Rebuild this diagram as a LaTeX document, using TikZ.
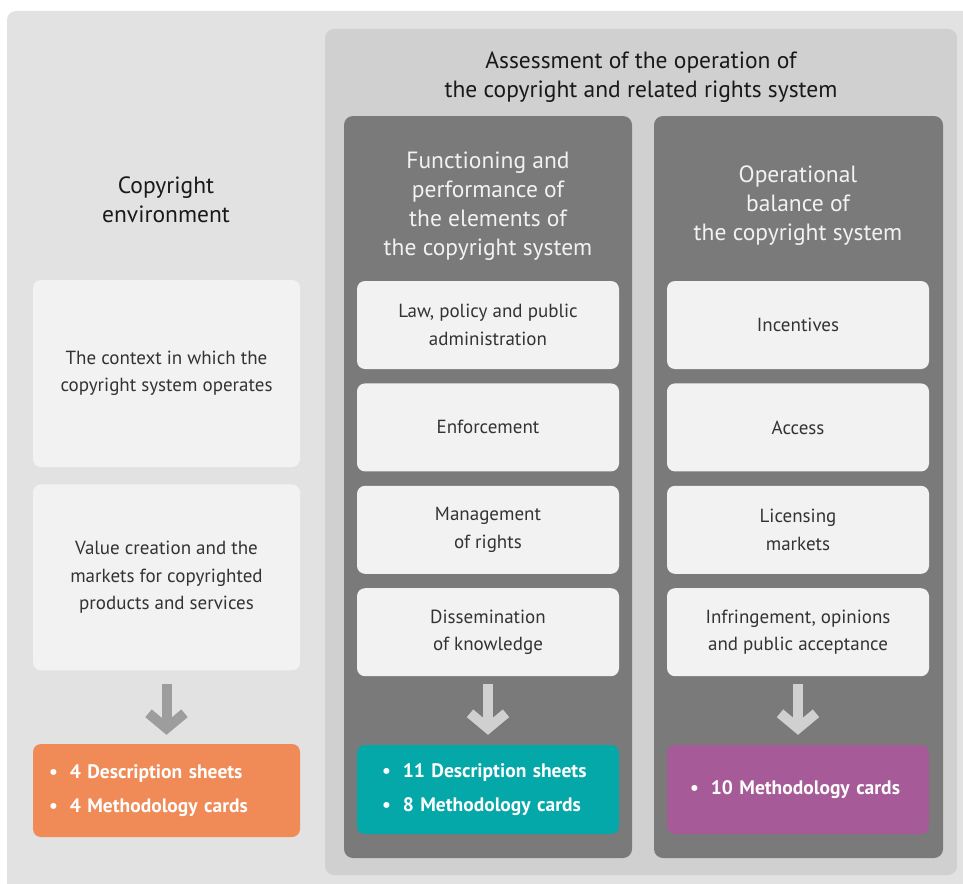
\documentclass[tikz,border=0pt]{standalone}
\usepackage{fontspec}
\setmainfont{PT Sans}
\usepackage{tikz}
\usetikzlibrary{positioning}
\usetikzlibrary{arrows.meta}

\definecolor{outerbg}{HTML}{E2E2E2}
\definecolor{midbg}{HTML}{D0D0D0}
\definecolor{panelgray}{HTML}{7A7A7A}
\definecolor{boxwhite}{HTML}{F2F2F2}
\definecolor{textgray}{HTML}{333333}
\definecolor{orangeres}{HTML}{F08B58}
\definecolor{tealres}{HTML}{05A8A8}
\definecolor{purpleres}{HTML}{A65A98}
\definecolor{arrowgray}{HTML}{9D9D9D}
\definecolor{arrowlight}{HTML}{D0D0D0}

\newcommand{\resitem}[1]{\textbullet\hspace{12pt}#1}

\begin{document}
\begin{tikzpicture}[x=1pt,y=-1pt,
	title/.style={align=center,text=black!90,font=\fontsize{23.5}{29}\selectfont},
	box/.style={rectangle,rounded corners=8pt,fill=boxwhite,text=textgray,align=center,
		minimum width=262pt,minimum height=88pt,inner sep=0pt,font=\fontsize{19}{27.5}\selectfont},
	result/.style={rectangle,rounded corners=8pt,text=white,align=left,minimum height=89pt,
		font=\bfseries\fontsize{19.5}{34}\selectfont},
	downarrow/.style={line width=10pt,-{Straight Barb[sharp,length=15pt,width=36pt]},
		shorten <=13pt,shorten >=9pt}
	]
	\useasboundingbox (0,0) rectangle (963,883);
	\fill [outerbg,rounded corners=9pt] (7,11) rectangle (990,900);
	\fill [midbg,rounded corners=9pt] (325,29) rectangle (957,875);
	\fill [panelgray,rounded corners=9pt] (344,116) rectangle (632,858);
	\fill [panelgray,rounded corners=9pt] (654,116) rectangle (943,858);

	\node [title] (envtitle) at (166,199.5) {Copyright\\environment};
	\node [title] (assesstitle) at (641,77.5) {Assessment of the operation of\\the copyright and related rights system};
	\node [title,text=boxwhite] (functitle) at (488,206.5) {Functioning and\\performance of\\the elements of\\the copyright system};
	\node [title,text=boxwhite] (baltitle) at (798,206) {Operational\\balance of\\the copyright system};

	\node [box,minimum width=267pt,minimum height=187pt] (context) at (166.5,373.5) {The context in which the\\copyright system operates};
	\node [box,minimum width=267pt,minimum height=186pt] (value) [below=17pt of context] {Value creation and the\\markets for copyrighted\\products and services};

	\node [box] (law) at (488,325) {Law, policy and public\\administration};
	\node [box] (enforce) [below=14pt of law] {Enforcement};
	\node [box] (manage) [below=14pt of enforce] {Management\\of rights};
	\node [box] (dissem) [below=14pt of manage] {Dissemination\\of knowledge};

	\node [box] (incent) at (798,325) {Incentives};
	\node [box] (access) [below=14pt of incent] {Access};
	\node [box] (licence) [below=14pt of access] {Licensing\\markets};
	\node [box] (infringe) [below=14pt of licence] {Infringement, opinions\\and public acceptance};

	\node [result,fill=orangeres,inner xsep=16pt,text width=235pt,minimum height=93pt] (envres) at (166.5,790.5)
		{\resitem{4 Description sheets}\\\resitem{4 Methodology cards}};
	\node [result,fill=tealres,inner xsep=25pt,text width=212pt] (funcres) at (488,789.5)
		{\resitem{11 Description sheets}\\\resitem{8 Methodology cards}};
	\node [result,fill=purpleres,inner xsep=23pt,text width=216pt] (balres) at (798,789.5)
		{\resitem{10 Methodology cards}};

	\draw [downarrow,draw=arrowgray] (value) to (envres);
	\draw [downarrow,draw=arrowlight,shorten <=8pt,shorten >=10pt] (dissem) to (funcres);
	\draw [downarrow,draw=arrowlight,shorten <=8pt,shorten >=10pt] (infringe) to (balres);
\end{tikzpicture}
\end{document}
